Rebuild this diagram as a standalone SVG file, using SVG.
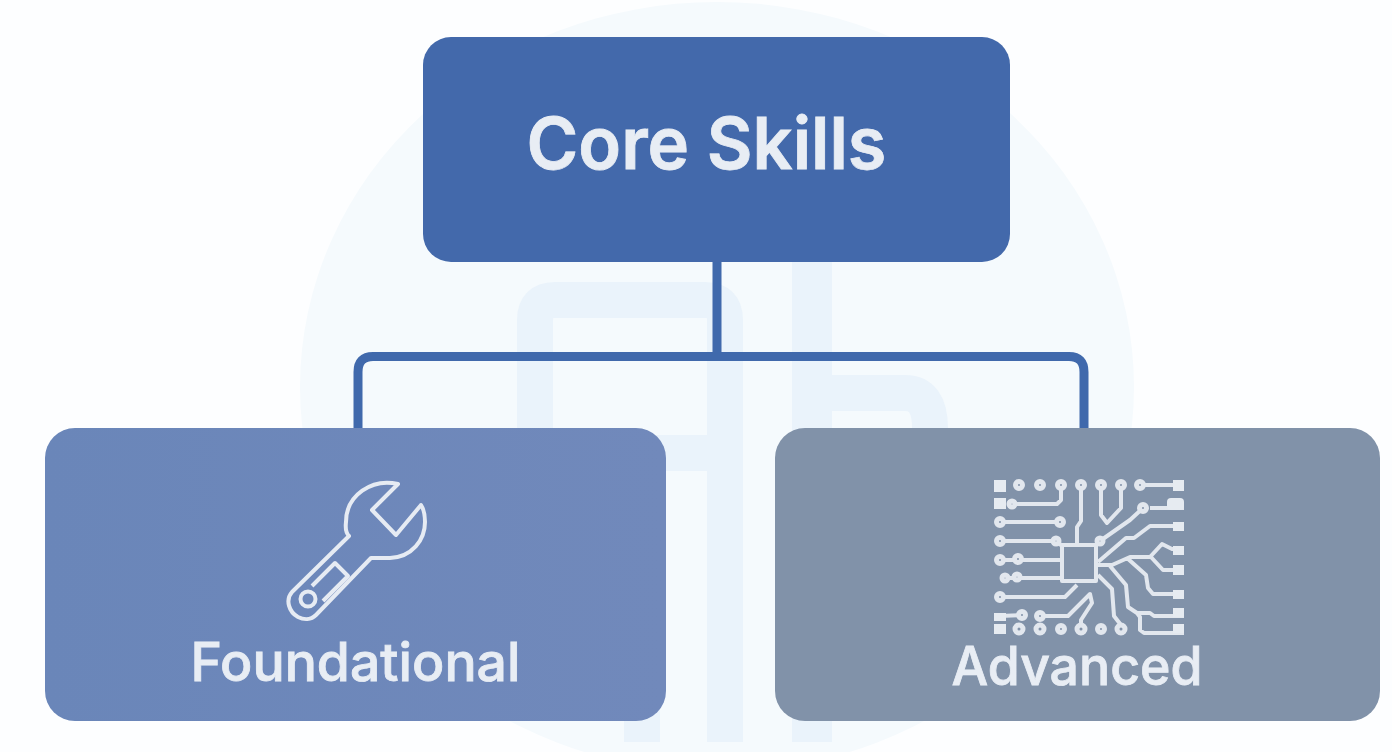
<svg xmlns="http://www.w3.org/2000/svg" width="1392" height="752" viewBox="0 0 1392 752">
<style>
.label{font-family:"Inter","Liberation Sans",sans-serif;font-weight:600;fill:#e8edf4;stroke:#e8edf4;stroke-width:.8}
.sub{font-weight:500}
.ghost{fill:none;stroke:#eaf3fb;stroke-width:36}
.conn{fill:none;stroke:#4069ac;stroke-width:9}
.chip{fill:none;stroke:#e2e7ee;stroke-width:4;stroke-linejoin:round}
.pad{fill:#e6ebf1}
.via{fill:#8192a9;stroke:#e2e7ee;stroke-width:5}
.wr{fill:none;stroke:#e6ebf3;stroke-width:4;stroke-linejoin:round}
</style>
<defs>
<linearGradient id="fg" x1="0" y1="0" x2="1" y2="0"><stop offset="0" stop-color="#6a86b9"/><stop offset="1" stop-color="#7189bb"/></linearGradient>
</defs>
<rect width="1392" height="752" fill="#fdfeff"/>
<g id="background">
<ellipse cx="717" cy="387" rx="417" ry="385" fill="#f5fafd"/>
<path class="ghost" d="M535 440V320Q535 300 555 300H705Q725 300 725 320V742M725 453H642V742"/>
<path class="ghost" style="stroke-width:40" d="M812 262V742"/>
<path class="ghost" d="M832 393H905Q930 393 930 428"/>
</g>
<g id="connectors">
<path class="conn" d="M717 262V356.500M358 428V372Q358 356.500 373 356.500H1069Q1084 356.500 1084 372V428"/>
</g>
<g id="core-skills">
<rect x="423" y="37" width="587" height="225" rx="28" fill="#4369ab"/>
<text class="label" x="706.500" y="169" font-size="72" text-anchor="middle" textLength="360" lengthAdjust="spacingAndGlyphs">Core Skills</text>
</g>
<g id="foundational">
<rect x="45" y="428" width="621" height="293" rx="30" fill="url(#fg)"/>
<g id="wrench-icon">
<path class="wr" d="M398 484C372 478 346 495 346 522C345 530 347 534 349 536L292 592C285 600 289 612 298 617C304 620 311 620 316 615L371 558H390C412 557 425 540 425 522C425 513 423 508 421 505L396 535L372 510Z"/>
<path class="wr" d="M312 586L335 563L348 576L323 601"/>
<circle class="wr" cx="308" cy="599" r="7.500"/>
</g>
<text class="label sub" x="355.500" y="681" font-size="53" text-anchor="middle" textLength="330" lengthAdjust="spacingAndGlyphs">Foundational</text>
</g>
<g id="advanced">
<rect x="775" y="428" width="605" height="293" rx="30" fill="#8192a9"/>
<g id="circuit-icon">
<rect class="chip" x="1062" y="545" width="34" height="36"/>
<path class="chip" d="M1061 485V500L1057 504H1012M1081 485V521L1077 527V544M1101 485V515L1107 523L1121 508V485M1140 485H1184M1143 508L1130 520L1100 541M1184 508H1150M1184 526H1150L1134 538L1126 538L1098 562M1098 565L1112 565L1130 557H1150L1162 544L1172 549H1184M1150 556L1163 570H1184M1127 558L1146 575L1148 588L1153 594H1184M1110 566L1126 585L1128 607L1137 613H1150L1154 616H1184M1137 613L1140 617V630L1144 633H1184M1098 575L1112 589L1114 616L1121 625V629M1000 522H1060M1000 541H1055L1061 545M1000 560H1061M1005 578H1061M1000 597H1065L1077 585M1000 616L1022 615M1040 616H1068L1090 594L1092 603L1081 620V629"/>
<rect class="pad" x="994" y="480" width="12" height="12"/>
<rect class="pad" x="994" y="498" width="12" height="11"/>
<rect class="pad" x="1173" y="480" width="11" height="11"/>
<rect class="pad" x="1167" y="498" width="17" height="12" rx="4"/>
<rect class="pad" x="1173" y="522" width="11" height="9"/>
<rect class="pad" x="1173" y="546" width="11" height="9"/>
<rect class="pad" x="1173" y="565" width="11" height="10"/>
<rect class="pad" x="1173" y="590" width="11" height="9"/>
<rect class="pad" x="1173" y="608" width="11" height="9"/>
<rect class="pad" x="1173" y="624" width="11" height="9"/>
<rect class="pad" x="994" y="613" width="12" height="8"/>
<rect class="pad" x="994" y="624" width="12" height="10"/>
<g class="via">
<circle cx="1019" cy="485" r="3.500"/><circle cx="1040" cy="485" r="3.500"/><circle cx="1061" cy="485" r="3.500"/><circle cx="1081" cy="485" r="3.500"/><circle cx="1101" cy="485" r="3.500"/><circle cx="1121" cy="485" r="3.500"/><circle cx="1140" cy="485" r="3.500"/>
<circle cx="1012" cy="504" r="3"/><circle cx="1143" cy="508" r="3.500"/>
<circle cx="1000" cy="522" r="3.500"/><circle cx="1060" cy="522" r="3.500"/>
<circle cx="1000" cy="541" r="3.500"/><circle cx="1056" cy="541" r="3"/><circle cx="1100" cy="541" r="3"/>
<circle cx="1000" cy="560" r="3.500"/><circle cx="1018" cy="559" r="3.500"/>
<circle cx="1005" cy="578" r="3"/><circle cx="1017" cy="577" r="3"/>
<circle cx="1000" cy="597" r="3.500"/>
<circle cx="1022" cy="615" r="3.500"/><circle cx="1040" cy="616" r="3.500"/>
<circle cx="1019" cy="629" r="4"/><circle cx="1040" cy="629" r="4"/><circle cx="1061" cy="629" r="3.500"/><circle cx="1081" cy="629" r="4"/><circle cx="1101" cy="629" r="3.500"/><circle cx="1121" cy="629" r="4"/>
</g>
</g>
<text class="label sub" x="1077" y="685" font-size="53" text-anchor="middle" textLength="251" lengthAdjust="spacingAndGlyphs">Advanced</text>
</g>
</svg>
